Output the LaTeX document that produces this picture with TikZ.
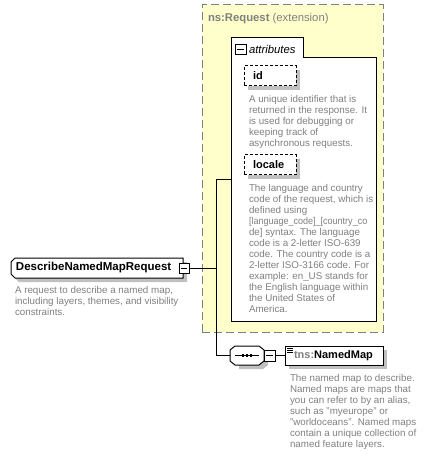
\documentclass[tikz,border=0pt]{standalone}
\usepackage{fontspec}
\setmainfont{Liberation Sans}
\usetikzlibrary{calc}
\definecolor{extyellow}{RGB}{255,255,204}
\definecolor{extborder}{RGB}{128,128,128}
\definecolor{desccol}{RGB}{128,128,128}
\definecolor{shadowgray}{RGB}{192,192,192}
\begin{document}
\begin{tikzpicture}[x=1pt,y=-1pt,
  every node/.style={inner sep=0pt, outer sep=0pt},
  ln/.style={draw=black, line width=1pt},
  desc/.style={anchor=north west, align=left, text=desccol, font=\fontsize{9.8}{11}\selectfont},
  titlefont/.style={font=\fontsize{11}{13}\selectfont},
  minusbox/.style={draw=black, fill=white, line width=1pt, minimum width=10pt, minimum height=10pt,
    path picture={\draw[line width=1pt] ([xshift=2pt]path picture bounding box.west) -- ([xshift=-2pt]path picture bounding box.east);}},
  attrbox/.style={draw=black, fill=white, line width=1pt, dash pattern=on 3pt off 2pt, minimum width=52pt, minimum height=20pt, anchor=north west, titlefont},
  ]
\useasboundingbox (0,0) rectangle (434,454);

% extension box
\node[draw=extborder, fill=extyellow, line width=1pt, dash pattern=on 8pt off 4pt,
      minimum width=181pt, minimum height=327pt, anchor=north west] (ext) at (202,5) {};
\node[anchor=west, text=desccol, font=\fontsize{11.3}{13}\selectfont] (extlabel) at (208,19) {\textbf{ns:Request} (extension)};

% attributes group
\node[minimum width=145pt, minimum height=283pt, anchor=north west] (attrs) at (231,38) {};
\draw[ln, fill=white] (attrs.north west) -- ($(attrs.north west)+(72,0)$) -- ($(attrs.north west)+(72,20)$)
  -- ($(attrs.north east)+(0,20)$) -- (attrs.south east) -- (attrs.south west) -- cycle;
\node[minusbox, minimum width=11pt, anchor=north west] (attrminus) at (235,45) {};
\node[anchor=west, font=\itshape\fontsize{11.3}{13}\selectfont] (attrlabel) at (249,49.5) {attributes};

% id
\fill[shadowgray] (248,70) rectangle (300,90);
\node[attrbox] (id) at (244,66) {\makebox[52pt][l]{\hspace{9pt}\textbf{id}}};
\node[desc] (iddesc) at (249,95.5) {A unique identifier that is\\returned in the response. It\\is used for debugging or\\keeping track of\\asynchronous requests.};

% locale
\fill[shadowgray] (248,159) rectangle (300,179);
\node[attrbox] (locale) at (244,155) {\makebox[52pt][l]{\hspace{9pt}\textbf{locale}}};
\node[desc] (localedesc) at (249,184.5) {The language and country\\code of the request, which is\\defined using\\\scalebox{0.92}[1]{{[}language\_code{]}\_{[}country\_co}\\de{]} syntax. The language\\code is a 2-letter ISO-639\\code. The country code is a\\2-letter ISO-3166 code. For\\example: en\_US stands for\\the English language within\\the United States of\\America.};

% main element (shape drawn, then its text node on top)
\coordinate (mainNW) at (11,258);
\coordinate (mainSE) at (183,278);
\fill[shadowgray] ($(mainNW)+(8,4)$) -- ($(mainSE|-mainNW)+(4,4)$) -- ($(mainSE)+(4,4)$)
  -- ($(mainNW|-mainSE)+(8,4)$) -- ($(mainNW|-mainSE)+(4,0)$) -- ($(mainNW)+(4,8)$) -- cycle;
\draw[ln, fill=white] ($(mainNW)+(4,0)$) -- (mainSE|-mainNW) -- (mainSE)
  -- ($(mainNW|-mainSE)+(4,0)$) -- ($(mainNW|-mainSE)+(0,-4)$) -- ($(mainNW)+(0,4)$) -- cycle;
\node[anchor=west, font=\fontsize{11.5}{13}\selectfont] (main) at (16,268) {\textbf{DescribeNamedMapRequest}};
\node[minusbox, anchor=north west] (mainminus) at (179,263) {};
\node[desc] (maindesc) at (15,286.5) {A request to describe a named map,\\including layers, themes, and visibility\\constraints.};

% sequence compositor
\node[minimum width=34pt, minimum height=19pt, anchor=north west] (seq) at (230,346) {};
\fill[shadowgray] ($(seq.north west)+(9,4)$) -- ($(seq.north east)+(-1,4)$) -- ($(seq.north east)+(4,8)$)
  -- ($(seq.south east)+(4,0)$) -- ($(seq.south east)+(-1,4)$) -- ($(seq.south west)+(9,4)$) -- cycle;
\draw[ln, fill=white] ($(seq.north west)+(5,0)$) -- ($(seq.north east)+(-5,0)$) -- ($(seq.north east)+(0,4)$)
  -- ($(seq.south east)+(0,-4)$) -- ($(seq.south east)+(-5,0)$) -- ($(seq.south west)+(5,0)$)
  -- ($(seq.south west)+(0,-4)$) -- ($(seq.north west)+(0,4)$) -- cycle;
\draw[line width=1pt] ($(seq.west)+(5,0)$) -- ($(seq.east)+(-5,0)$);
\foreach \dx in {-4,0,4} \fill ($(seq.center)+(\dx-1,-1.2)$) rectangle ($(seq.center)+(\dx+1.2,1.2)$);
\node[minusbox, minimum width=11pt, minimum height=11pt, anchor=north west] (seqminus) at (264,350) {};

% NamedMap element
\fill[shadowgray] (289,350) rectangle (387,369);
\node[draw=black, fill=white, line width=1pt, minimum width=98pt, minimum height=19pt, anchor=north west, titlefont] (nm) at (285,346)
  {\makebox[98pt][l]{\hspace{9pt}{\color{desccol}\textbf{tns:}}\textbf{NamedMap}}};
\foreach \dy in {2,4,6} \draw[line width=0.7pt] ($(nm.north west)+(2,\dy)$) -- ++(6,0);
\node[desc] (nmdesc) at (290,374.5) {The named map to describe.\\Named maps are maps that\\you can refer to by an alias,\\such as "myeurope" or\\"worldoceans". Named maps\\contain a unique collection of\\named feature layers.};

% connectors
\coordinate (bus) at ($(attrs.west)+(-15,0)$);
\draw[ln] (mainminus.east) -- (mainminus.east -| bus);
\draw[ln] (attrs.west) -- (bus) |- (seq.west);
\draw[ln] (seqminus.east) -- (nm.west);
\end{tikzpicture}
\end{document}
